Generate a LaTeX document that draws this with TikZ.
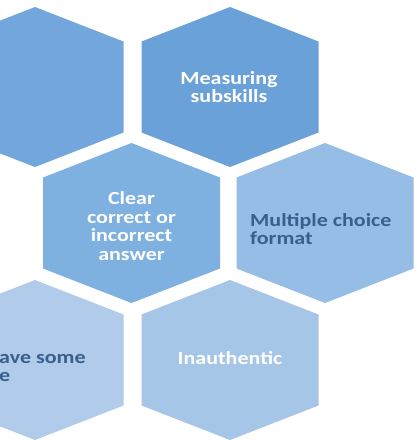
\documentclass[tikz,border=0pt]{standalone}
\usepackage{fontspec}
\setmainfont{Carlito}
\usetikzlibrary{positioning}

\begin{document}
\begin{tikzpicture}
[x = 1pt, y = -1pt,
hexagon/.style = {draw = none},
wide text/.style = {transform shape, xscale = 1.19, inner sep = 0pt},
light text/.style = {wide text, text = white, font = \fontsize{18.5}{18.5}\selectfont\bfseries, align = center},
dark text/.style = {wide text, text = textblue, font = \fontsize{18.5}{17.5}\selectfont\bfseries, align = left}]

\definecolor{hexA}{HTML}{73A6DC}
\definecolor{hexB}{HTML}{6AA1D8}
\definecolor{hexC}{HTML}{7EB0E0}
\definecolor{hexD}{HTML}{96BDE6}
\definecolor{hexE}{HTML}{B0CCEA}
\definecolor{hexF}{HTML}{A6C6E8}
\definecolor{textblue}{HTML}{3B5E8C}

\clip (0, 0) rectangle (417, 440);
\fill[white] (0, 0) rectangle (417, 440);

% honeycomb, three rows
\foreach \cx/\cy/\col in {35/87/hexA, 230/87/hexB, 131.5/223/hexC, 325/223/hexD, 35/360/hexE, 230/360/hexF}
\fill[hexagon, \col] (\cx, \cy) +(0, -80) -- +(88.5, -45.5) -- +(88.5, 45.5) -- +(0, 80) -- +(-88.5, 45.5) -- +(-88.5, -45.5) -- cycle;

\node[light text] (subskills) at (229, 87) {Measuring\\subskills};
\node[light text] (answer) at (131.5, 226) {Clear\\correct or\\incorrect\\answer};
\node[dark text, anchor = west] (format) at (250, 229) {Multiple choice\\format};
\node[dark text, anchor = west] (some) at (-1, 368) {ave some\\e};
\node[light text] (inauthentic) at (230, 358) {Inauthentic};
\end{tikzpicture}
\end{document}
